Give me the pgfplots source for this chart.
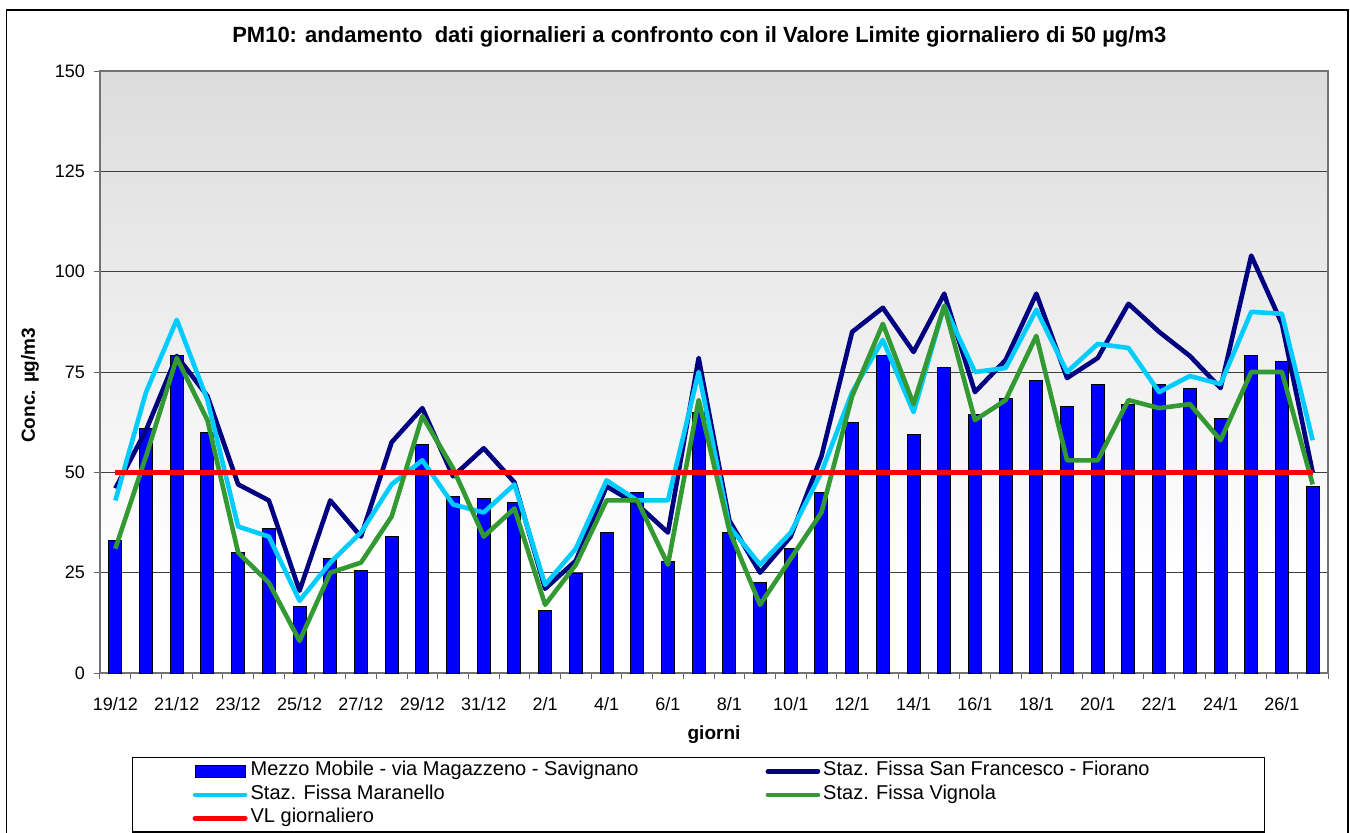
\documentclass[border=0pt]{standalone}
\usepackage{fontspec}
\setmainfont{Liberation Sans}
\usepackage{pgfplots}
\pgfplotsset{compat=1.18}
\usepackage{pgfplotstable}

\definecolor{mobile}{RGB}{0,0,255}
\definecolor{fiorano}{RGB}{0,0,128}
\definecolor{maranello}{RGB}{0,204,255}
\definecolor{vignola}{RGB}{51,153,51}
\definecolor{bgtop}{RGB}{220,220,220}

\pgfdeclareverticalshading{pmbg}{100bp}{color(0bp)=(white); color(33.3bp)=(white); color(75bp)=(bgtop); color(100bp)=(bgtop)}

\pgfplotsset{
  linelegend/.style={legend image code/.code={\draw[##1, line cap=round] (0pt,0pt) -- (25pt,0pt);}},
  barlegend/.style={legend image code/.code={\draw[fill=mobile, draw=black, line width=0.6pt] (0pt,-3pt) rectangle (25pt,3pt);}},
}

% i = giorno (0 = 19/12 ... 39 = 27/1)
\pgfplotstableread{
i  bar   fior  mara  vign
0  33    46    43    31
1  61    60.5  70    54
2  79    79    88    78.5
3  60    69    68    63
4  30    47    36.5  30
5  36    43    34    22.5
6  16.5  20.5  18    8
7  28.5  43    27.5  25
8  25.5  34    35    27.5
9  34    57.5  47    39
10 57    66    53    64
11 44    49    42    51
12 43.5  56    40    34
13 42.5  47.5  47    41
14 15.5  21    22    17
15 24.7  28    31    27
16 35    46.5  48    43
17 45    42    43    43
18 27.7  35    43    27
19 65    78.5  75    68
20 35    38    36.5  35.5
21 22.5  25    27    17
22 31    34    35    28.5
23 45    54    50    40
24 62.5  85    70    69
25 79    91    83    87
26 59.5  80    65    67
27 76    94.5  91.5  91.5
28 64.5  70    75    63
29 68.5  78    76    68
30 73    94.5  90.5  84
31 66.5  73.5  75    53
32 72    78.5  82    53
33 67    92    81    68
34 72    85    70    66
35 71    79    74    67
36 63.5  71    72    58
37 79    104   90    75
38 77.5  87    89.5  75
39 46.5  50    58    47
}\dati

\begin{document}
\begin{tikzpicture}
\path[use as bounding box] (-50pt,-79.5pt) rectangle (625pt,336.5pt);
\clip (-50pt,-79.5pt) rectangle (625pt,336.5pt);
\draw[line width=0.8pt] (-46.75pt,-95pt) rectangle (624pt,331.5pt);
\begin{axis}[
  at={(0,0)}, anchor=south west,
  scale only axis, width=614pt, height=301pt,
  axis background/.style={shading=pmbg},
  xmin=-0.5, xmax=39.5, ymin=0, ymax=150,
  ytick={0,25,...,150},
  xtick={0,2,...,38},
  xticklabels={19/12,21/12,23/12,25/12,27/12,29/12,31/12,2/1,4/1,6/1,8/1,10/1,12/1,14/1,16/1,18/1,20/1,22/1,24/1,26/1},
  minor xtick={-0.5,0.5,...,39.5},
  xtick pos=bottom, ytick pos=left,
  tick align=outside,
  major tick length=3pt, minor tick length=3pt,
  major x tick style={draw=none},
  minor x tick style={black!60, line width=0.5pt},
  major y tick style={black!60, line width=0.5pt},
  axis line style={black!55, line width=0.6pt},
  ymajorgrids, grid style={black!75, line width=0.5pt},
  /pgf/number format/assume math mode=true,
  tick label style={font=\fontsize{9}{10.8}\selectfont},
  xticklabel style={yshift=-5.5pt},
  yticklabel style={xshift=-1pt},
  title={PM10: andamento\ \ dati giornalieri a confronto con il Valore Limite giornaliero di 50 µg/m3},
  title style={font=\bfseries\fontsize{11}{13}\selectfont, at={(0.488,1)}, anchor=center, yshift=11pt},
  xlabel={giorni},
  xlabel style={font=\bfseries\fontsize{9.5}{11}\selectfont, at={(axis description cs:0.5,0)}, anchor=center, yshift=-31pt},
  ylabel={Conc. µg/m3},
  ylabel style={font=\bfseries\fontsize{9.5}{11}\selectfont, at={(axis description cs:-0.057,0.478)}, anchor=center, rotate=0},
  legend columns=2,
  legend style={at={(axis description cs:0.0261,-0.1395)}, anchor=north west,
    draw=black, line width=0.6pt, font=\fontsize{10}{11.75}\selectfont,
    inner xsep=30pt, inner ysep=1pt, row sep=0pt,
    nodes={inner ysep=0pt, inner xsep=1.5pt, text height=8.2pt, text depth=3.55pt},
    cells={anchor=west}},
]
\addplot[ybar, bar width=6.5pt, fill=mobile, draw=black, line width=0.5pt, barlegend]
  table[x=i, y=bar] {\dati};
\addlegendentry{\makebox[256pt][l]{Mezzo Mobile - via Magazzeno - Savignano}}

\addplot[fiorano, line width=2.3pt, line join=round, linelegend]
  table[x=i, y=fior] {\dati};
\addlegendentry{\makebox[189pt][l]{Staz. Fissa San Francesco - Fiorano}}

\addplot[maranello, line width=2.3pt, line join=round, linelegend]
  table[x=i, y=mara] {\dati};
\addlegendentry{\makebox[256pt][l]{Staz. Fissa Maranello}}

\addplot[vignola, line width=2.3pt, line join=round, linelegend]
  table[x=i, y=vign] {\dati};
\addlegendentry{\makebox[189pt][l]{Staz. Fissa Vignola}}

\addplot[red, line width=2.5pt, linelegend]
  coordinates {(0,50) (39,50)};
\addlegendentry{\makebox[256pt][l]{VL giornaliero}}
\end{axis}
\end{tikzpicture}
\end{document}
